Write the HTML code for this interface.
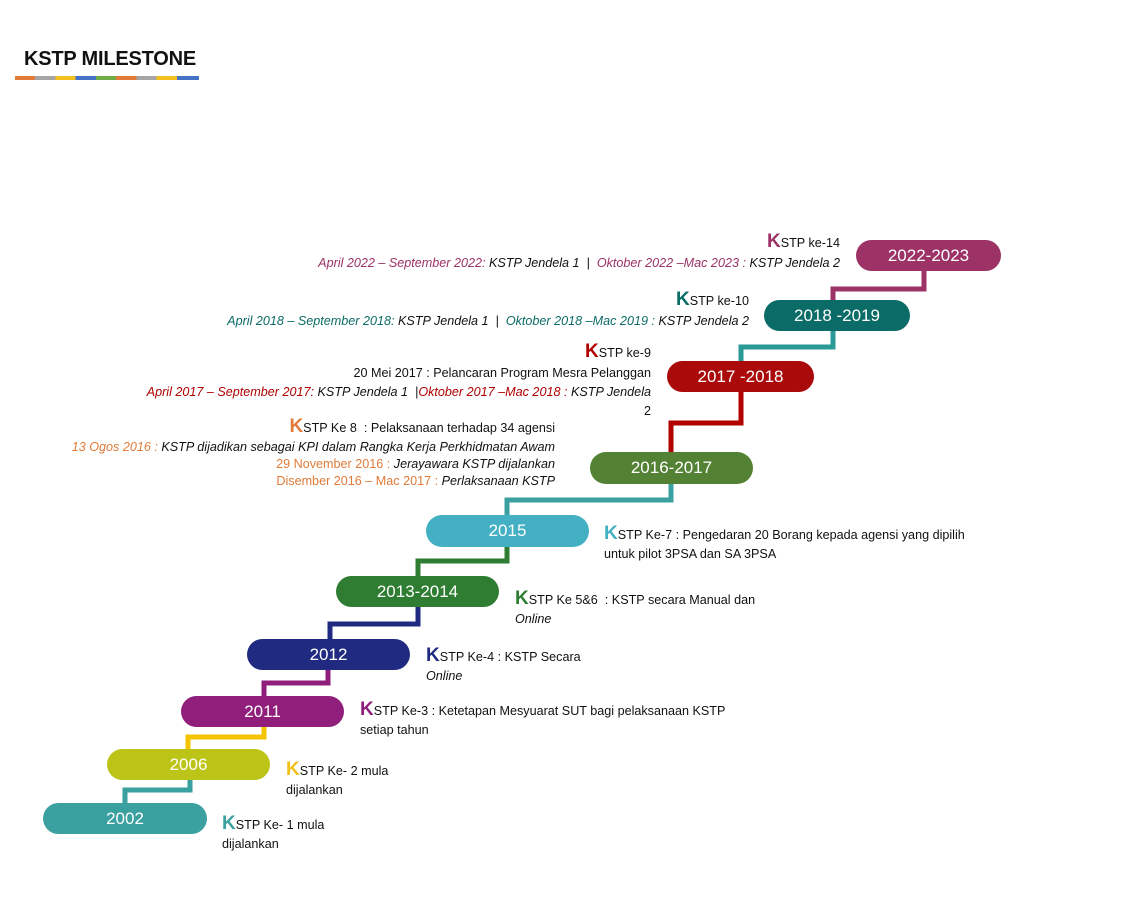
<!DOCTYPE html>
<html><head><meta charset="utf-8"><style>
body{margin:0;width:1124px;height:903px;background:#fff;position:relative;overflow:hidden;font-family:"Liberation Sans",sans-serif;}
.p{position:absolute;border-radius:16px;color:#fff;font-size:17px;text-align:center;line-height:31px;height:31px}
.t{position:absolute;font-size:12.6px;color:#111;white-space:nowrap;letter-spacing:0;line-height:19px}
.r{text-align:right}
.K{font-size:19px;font-weight:bold}
i{font-style:italic}
</style></head><body>
<div class="t" style="left:24px;top:47px;font-size:20px;font-weight:bold;letter-spacing:-0.2px;line-height:24px">KSTP MILESTONE</div>
<div style="position:absolute;left:15px;top:76px;height:4px;width:184px;background:linear-gradient(90deg,#e07b39 0 11%,#a5a5a5 11% 22%,#f2c11b 22% 33%,#4472c4 33% 44%,#70ad47 44% 55%,#e07b39 55% 66%,#a5a5a5 66% 77%,#f2c11b 77% 88%,#4472c4 88%)"></div>
<svg width="1124" height="903" style="position:absolute;left:0;top:0" fill="none" stroke-width="5">
<polyline points="125,805 125,790 190,790 190,777" stroke="#3aa0a0"/>
<polyline points="188,751 188,737 264,737 264,725" stroke="#f5c400"/>
<polyline points="264,698 264,683 328,683 328,667" stroke="#8f1f7a"/>
<polyline points="330,641 330,624 418,624 418,605" stroke="#1f2a80"/>
<polyline points="418,578 418,561 507,561 507,545" stroke="#2e7d32"/>
<polyline points="507,517 507,500 671,500 671,482" stroke="#3aa0a0"/>
<polyline points="671,454 671,423 741,423 741,390" stroke="#b00000"/>
<polyline points="741,363 741,347 833,347 833,329" stroke="#2a9a96"/>
<polyline points="833,302 833,289 924,289 924,269" stroke="#9c3266"/>
</svg>
<div class="p" style="left:43px;top:803px;width:164px;background:#3aa0a0">2002</div>
<div class="p" style="left:107px;top:749px;width:163px;background:#bcc418">2006</div>
<div class="p" style="left:181px;top:696px;width:163px;background:#8f1f7a">2011</div>
<div class="p" style="left:247px;top:639px;width:163px;background:#1f2a80">2012</div>
<div class="p" style="left:336px;top:576px;width:163px;background:#2e7d32">2013-2014</div>
<div class="p" style="left:426px;top:515px;width:163px;height:32px;background:#43b0c4">2015</div>
<div class="p" style="left:590px;top:452px;width:163px;height:32px;background:#548235">2016-2017</div>
<div class="p" style="left:667px;top:361px;width:147px;background:#aa0a0a">2017 -2018</div>
<div class="p" style="left:764px;top:300px;width:146px;background:#0b6b66">2018 -2019</div>
<div class="p" style="left:856px;top:240px;width:145px;background:#9c3266">2022-2023</div>

<div class="t" style="left:222px;top:814px"><span class="K" style="color:#3aa0a0">K</span>STP Ke- 1 mula<br>dijalankan</div>
<div class="t" style="left:286px;top:760px"><span class="K" style="color:#f2c11b">K</span>STP Ke- 2 mula<br>dijalankan</div>
<div class="t" style="left:360px;top:700px"><span class="K" style="color:#8f1f7a">K</span>STP Ke-3 : Ketetapan Mesyuarat SUT bagi pelaksanaan KSTP<br>setiap tahun</div>
<div class="t" style="left:426px;top:646px"><span class="K" style="color:#1f2a80">K</span>STP Ke-4 : KSTP Secara<br><i>Online</i></div>
<div class="t" style="left:515px;top:589px"><span class="K" style="color:#2e7d32">K</span>STP Ke 5&amp;6 &nbsp;: KSTP secara Manual dan<br><i>Online</i></div>
<div class="t" style="left:604px;top:524px"><span class="K" style="color:#43b0c4">K</span>STP Ke-7 : Pengedaran 20 Borang kepada agensi yang dipilih<br>untuk pilot 3PSA dan SA 3PSA</div>

<div class="t r" style="right:569px;top:417px"><span class="K" style="color:#e07b39">K</span>STP Ke 8 &nbsp;: Pelaksanaan terhadap 34 agensi</div>
<div class="t r" style="right:569px;top:439px;line-height:17px"><i><span style="color:#e07b39">13 Ogos 2016 :</span> KSTP dijadikan sebagai KPI dalam Rangka Kerja Perkhidmatan Awam</i><br><span style="color:#e07b39">29 November 2016 :</span> <i>Jerayawara KSTP dijalankan</i><br><span style="color:#e07b39">Disember 2016 – Mac 2017 :</span> <i>Perlaksanaan KSTP</i></div>

<div class="t r" style="right:473px;top:342px"><span class="K" style="color:#b00000">K</span>STP ke-9</div>
<div class="t r" style="right:473px;top:364px;line-height:19px">20 Mei 2017 : Pelancaran Program Mesra Pelanggan<br><i><span style="color:#b00000">April 2017 – September 2017:</span> KSTP Jendela 1 &nbsp;|<span style="color:#b00000">Oktober 2017 –Mac 2018 :</span> KSTP Jendela</i><br>2</div>

<div class="t r" style="right:375px;top:290px"><span class="K" style="color:#0b6b66">K</span>STP ke-10</div>
<div class="t r" style="right:375px;top:312px"><i><span style="color:#0b6b66">April 2018 – September 2018:</span> KSTP Jendela 1 &nbsp;| &nbsp;<span style="color:#0b6b66">Oktober 2018 –Mac 2019 :</span> KSTP Jendela 2</i></div>

<div class="t r" style="right:284px;top:232px"><span class="K" style="color:#9c3266">K</span>STP ke-14</div>
<div class="t r" style="right:284px;top:254px"><i><span style="color:#9c3266">April 2022 – September 2022:</span> KSTP Jendela 1 &nbsp;| &nbsp;<span style="color:#9c3266">Oktober 2022 –Mac 2023 :</span> KSTP Jendela 2</i></div>
</body></html>
